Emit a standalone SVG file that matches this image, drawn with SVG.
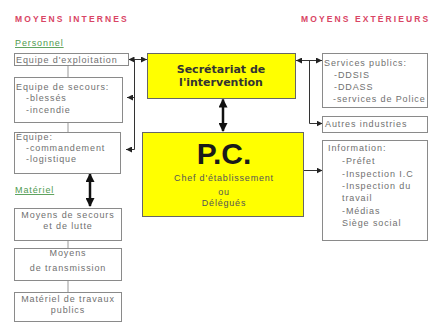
<svg xmlns="http://www.w3.org/2000/svg" width="430" height="323" viewBox="0 0 430 323">
<style>
.hd{font-family:"Liberation Sans",Arial,sans-serif;font-size:8.5px;font-weight:bold;fill:#d94565;letter-spacing:2.1px}
.gr{font-family:"Liberation Sans",Arial,sans-serif;font-size:9px;fill:#4f9a4f;letter-spacing:0.9px;text-decoration:underline}
.bx{fill:#fff;stroke:#8a8a8a;stroke-width:1}
.yb{fill:#ffff00;stroke:#666;stroke-width:1}
.t{font-family:"Liberation Sans",Arial,sans-serif;font-size:9px;fill:#707070;letter-spacing:0.9px}
.tc{text-anchor:middle}
.sec{font-family:"DejaVu Sans",Verdana,sans-serif;font-size:11px;font-weight:bold;fill:#333;text-anchor:middle}
.pc{font-family:"Liberation Sans",Arial,sans-serif;font-size:30px;font-weight:bold;fill:#1a1a1a;text-anchor:middle}
.pcs{font-family:"Liberation Sans",Arial,sans-serif;font-size:9px;fill:#555;letter-spacing:0.8px;text-anchor:middle}
.ln{stroke:#999;stroke-width:1;fill:none}
.ar{stroke:#333;stroke-width:1;fill:none}
.arS{stroke:#333;stroke-width:1;fill:none;marker-end:url(#sa)}
.arD{stroke:#333;stroke-width:1;fill:none;marker-start:url(#sa);marker-end:url(#sa)}
.big{stroke:#111;stroke-width:2.5;fill:none;marker-start:url(#ba);marker-end:url(#ba)}
</style>
<defs>
<marker id="sa" markerUnits="userSpaceOnUse" markerWidth="6" markerHeight="6" refX="6" refY="3" orient="auto-start-reverse"><path d="M0,0 L6,3 L0,6 z" fill="#222"/></marker>
<marker id="ba" markerUnits="userSpaceOnUse" markerWidth="9" markerHeight="9" refX="8" refY="4.5" orient="auto-start-reverse"><path d="M0,0 L9,4.5 L0,9 z" fill="#111"/></marker>
</defs>
<rect width="430" height="323" fill="#fff"/>
<g id="headers">
<text class="hd" x="15" y="22">MOYENS INTERNES</text>
<text class="hd" x="301" y="22">MOYENS EXTÉRIEURS</text>
<text class="gr" x="15" y="46">Personnel</text>
<text class="gr" x="15" y="193">Matériel</text>
</g>
<g id="connectors">
<path class="ln" d="M68,65 V77 M68,122 V132 M68,240 V248 M68,280 V292"/>
<path class="arD" d="M128.5,59.5 H147"/>
<path class="ar" d="M134.5,59.5 V149.5"/>
<path class="arS" d="M134.5,97.5 H127"/>
<path class="arS" d="M134.5,149.5 H126"/>
<path class="arD" d="M296,60.5 H322"/>
<path class="ar" d="M309.5,60.5 V123.5"/>
<path class="arS" d="M309.5,123.5 H322.5"/>
<path class="arS" d="M303,170.5 H322.5"/>
<path class="big" d="M223,99.5 V131"/>
<path class="big" d="M90,174 V206"/>
</g>
<g id="exploitation">
<rect class="bx" x="14.5" y="53.5" width="114" height="12"/>
<text class="t" x="16" y="62.5">Equipe d'exploitation</text>
</g>
<g id="secours">
<rect class="bx" x="14.5" y="77.5" width="108" height="45"/>
<text class="t" x="16" y="90">Equipe de secours:</text>
<text class="t" x="26" y="101">-blessés</text>
<text class="t" x="26" y="113">-incendie</text>
</g>
<g id="equipe">
<rect class="bx" x="14.5" y="132.5" width="106" height="41"/>
<text class="t" x="16" y="140">Équipe:</text>
<text class="t" x="26" y="151">-commandement</text>
<text class="t" x="26" y="162">-logistique</text>
</g>
<g id="moyens-secours">
<rect class="bx" x="14.5" y="208.5" width="107" height="32"/>
<text class="t tc" x="68" y="218">Moyens de secours</text>
<text class="t tc" x="68" y="229">et de lutte</text>
</g>
<g id="transmission">
<rect class="bx" x="14.5" y="248.5" width="107" height="32"/>
<text class="t tc" x="68" y="256">Moyens</text>
<text class="t tc" x="68" y="271">de transmission</text>
</g>
<g id="travaux">
<rect class="bx" x="14.5" y="292.5" width="107" height="29"/>
<text class="t tc" x="68" y="302">Matériel de travaux</text>
<text class="t tc" x="68" y="313">publics</text>
</g>
<g id="secretariat">
<rect class="yb" x="147.5" y="53.5" width="148" height="45"/>
<text class="sec" x="221" y="73">Secrétariat de</text>
<text class="sec" x="221" y="86">l'intervention</text>
</g>
<g id="pc">
<rect class="yb" x="142.5" y="132.5" width="161" height="84"/>
<text class="pc" x="224" y="164">P.C.</text>
<text class="pcs" x="224" y="181">Chef d'établissement</text>
<text class="pcs" x="224" y="195">ou</text>
<text class="pcs" x="224" y="206">Délégués</text>
</g>
<g id="services">
<rect class="bx" x="322.5" y="53.5" width="105" height="54"/>
<text class="t" x="324" y="66">Services publics:</text>
<text class="t" x="334" y="78">-DDSIS</text>
<text class="t" x="334" y="90">-DDASS</text>
<text class="t" x="333" y="102">-services de Police</text>
</g>
<g id="industries">
<rect class="bx" x="322.5" y="116.5" width="105" height="16"/>
<text class="t" x="325" y="127">Autres industries</text>
</g>
<g id="information">
<rect class="bx" x="322.5" y="140.5" width="105" height="100"/>
<text class="t" x="328" y="151">Information:</text>
<text class="t" x="342" y="164">-Préfet</text>
<text class="t" x="342" y="177">-Inspection I.C</text>
<text class="t" x="342" y="189">-Inspection du</text>
<text class="t" x="342" y="201">travail</text>
<text class="t" x="342" y="214">-Médias</text>
<text class="t" x="342" y="226">Siège social</text>
</g>
</svg>
